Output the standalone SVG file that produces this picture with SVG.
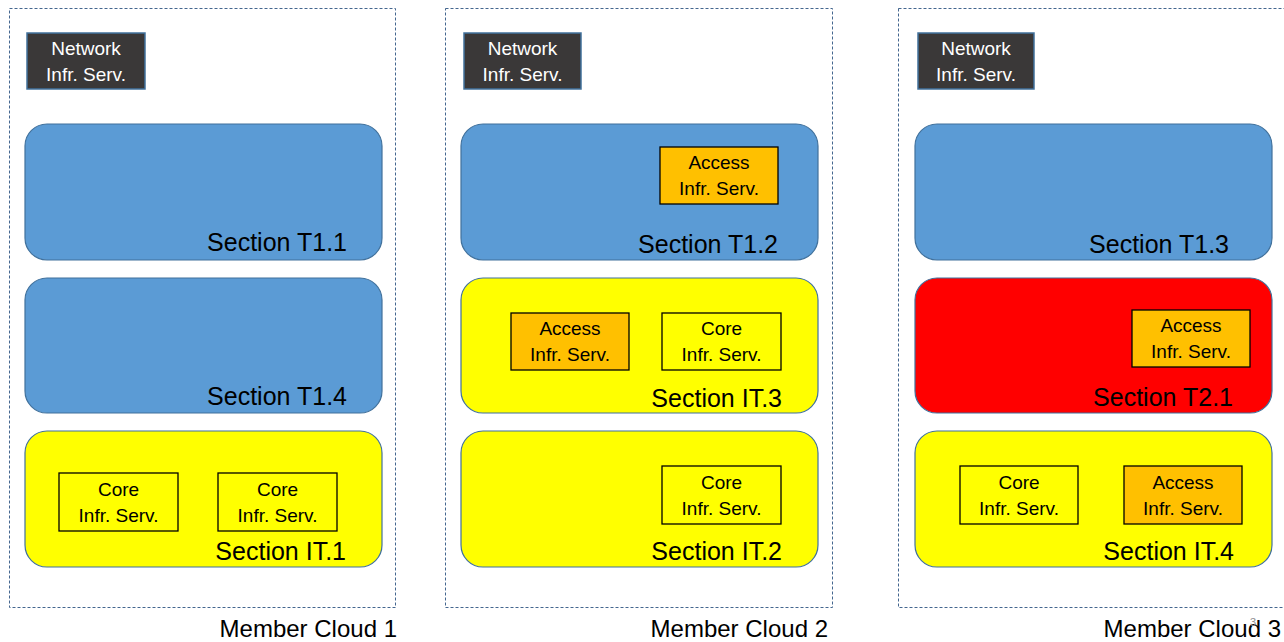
<svg xmlns="http://www.w3.org/2000/svg" width="1284" height="642" viewBox="0 0 1284 642">
<style>
text{font-family:"Liberation Sans",Arial,sans-serif;fill:#000}
.cloud{fill:none;stroke:#44668f;stroke-width:1;stroke-dasharray:3 2}
.blue{fill:#5b9bd5;stroke:#41719c;stroke-width:1.2}
.yel{fill:#ffff00;stroke:#41719c;stroke-width:1.2}
.red{fill:#ff0000;stroke:#41719c;stroke-width:1.2}
.net{fill:#3a3838;stroke:#41719c;stroke-width:1.5}
.acc{fill:#ffc000;stroke:#000;stroke-width:1.3}
.core{fill:#ffff00;stroke:#000;stroke-width:1.3}
.sec{font-size:25px;text-anchor:end}
.box{font-size:19px;text-anchor:middle}
.wt{fill:#fff}
.cl{font-size:24px;text-anchor:end}
</style>
<g id="cloud1">
<rect class="cloud" x="9.5" y="8.5" width="386" height="599"/>
<text class="cl" x="397" y="637">Member Cloud 1</text>
</g>
<g id="cloud2">
<rect class="cloud" x="445.5" y="8.5" width="387" height="599"/>
<text class="cl" x="828" y="637">Member Cloud 2</text>
</g>
<g id="cloud3">
<rect class="cloud" x="898.5" y="8.5" width="400" height="599"/>
<text class="cl" x="1281" y="637">Member Cloud 3</text>
<text x="1253" y="626" style="font-size:11px;fill:#8c8c8c;text-anchor:middle">3</text>
</g>
<g id="net1"><rect class="net" x="27" y="33" width="118" height="56"/><text class="box wt" x="86" y="55">Network</text><text class="box wt" x="86" y="81">Infr. Serv.</text></g>
<g id="net2"><rect class="net" x="464" y="33" width="117" height="56"/><text class="box wt" x="522.5" y="55">Network</text><text class="box wt" x="522.5" y="81">Infr. Serv.</text></g>
<g id="net3"><rect class="net" x="918" y="33" width="116" height="56"/><text class="box wt" x="976" y="55">Network</text><text class="box wt" x="976" y="81">Infr. Serv.</text></g>
<g id="secT11"><rect class="blue" x="25" y="124" width="357" height="136" rx="22"/><text class="sec" x="347" y="251">Section T1.1</text></g>
<g id="secT14"><rect class="blue" x="25" y="278" width="357" height="135" rx="22"/><text class="sec" x="347" y="405">Section T1.4</text></g>
<g id="secIT1"><rect class="yel" x="25" y="431" width="357" height="136" rx="22"/><text class="sec" x="346" y="560">Section IT.1</text>
<rect class="core" x="59" y="473" width="119" height="58"/><text class="box" x="118.5" y="496">Core</text><text class="box" x="118.5" y="522">Infr. Serv.</text>
<rect class="core" x="218" y="473" width="119" height="58"/><text class="box" x="277.5" y="496">Core</text><text class="box" x="277.5" y="522">Infr. Serv.</text></g>
<g id="secT12"><rect class="blue" x="461" y="124" width="357" height="136" rx="22"/><text class="sec" x="778" y="253">Section T1.2</text>
<rect class="acc" x="660" y="147" width="118" height="57"/><text class="box" x="719" y="169">Access</text><text class="box" x="719" y="195">Infr. Serv.</text></g>
<g id="secIT3"><rect class="yel" x="461" y="278" width="357" height="135" rx="22"/><text class="sec" x="782" y="407">Section IT.3</text>
<rect class="acc" x="511" y="313" width="118" height="57"/><text class="box" x="570" y="335">Access</text><text class="box" x="570" y="361">Infr. Serv.</text>
<rect class="core" x="662" y="313" width="119" height="57"/><text class="box" x="721.5" y="335">Core</text><text class="box" x="721.5" y="361">Infr. Serv.</text></g>
<g id="secIT2"><rect class="yel" x="461" y="431" width="357" height="136" rx="22"/><text class="sec" x="782" y="560">Section IT.2</text>
<rect class="core" x="662" y="466" width="119" height="58"/><text class="box" x="721.5" y="489">Core</text><text class="box" x="721.5" y="515">Infr. Serv.</text></g>
<g id="secT13"><rect class="blue" x="915" y="124" width="357" height="136" rx="22"/><text class="sec" x="1229" y="253">Section T1.3</text></g>
<g id="secT21"><rect class="red" x="915" y="278" width="357" height="135" rx="22"/><text class="sec" x="1233" y="406">Section T2.1</text>
<rect class="acc" x="1132" y="310" width="118" height="57"/><text class="box" x="1191" y="332">Access</text><text class="box" x="1191" y="358">Infr. Serv.</text></g>
<g id="secIT4"><rect class="yel" x="915" y="431" width="357" height="136" rx="22"/><text class="sec" x="1234" y="560">Section IT.4</text>
<rect class="core" x="960" y="466" width="118" height="58"/><text class="box" x="1019" y="489">Core</text><text class="box" x="1019" y="515">Infr. Serv.</text>
<rect class="acc" x="1124" y="466" width="118" height="58"/><text class="box" x="1183" y="489">Access</text><text class="box" x="1183" y="515">Infr. Serv.</text></g>
<g id="connectors"/>
</svg>
